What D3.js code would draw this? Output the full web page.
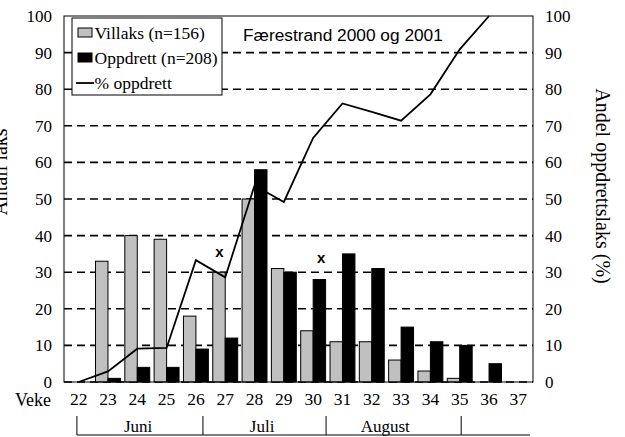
<!DOCTYPE html>
<html>
<head>
<meta charset="utf-8">
<script src="https://cdnjs.cloudflare.com/ajax/libs/d3/7.8.5/d3.min.js"></script>
<style>
  body { margin: 0; background: #fff; }
</style>
</head>
<body>
<div class="chart"></div>
<script>
// --- data ---
var weeks = ["22","23","24","25","26","27","28","29","30","31","32","33","34","35","36","37"];
var villaks = [0, 33, 40, 39, 18, 30, 50, 31, 14, 11, 11, 6, 3, 1, 0, 0];
var oppdrett = [0, 1, 4, 4, 9, 12, 58, 30, 28, 35, 31, 15, 11, 10, 5, 0];
var pctOppdrett = [0, 2.9, 9.1, 9.3, 33.3, 28.6, 53.7, 49.2, 66.7, 76.1, 73.8, 71.4, 78.6, 90.9, 100, null];
var leftTicks = [0, 10, 20, 30, 40, 50, 60, 70, 80, 90, 100];
var rightTicks = [0, 10, 20, 30, 40, 50, 60, 70, 80, 90, 100];
var months = ["Juni", "Juli", "August"];
var monthEdges = [21.94, 26.24, 30.44, 35.05];   // in week units
var monthLabelAt = [24.03, 28.26, 32.46];
var monthLineEnd = 37.4;
var markerWeek = [26.8, 30.27];
var markerValue = [35.5, 33.8];
var legendLabels = ["Villaks (n=156)", "Oppdrett (n=208)", "% oppdrett"];

var SERIF = "'Liberation Serif', 'Times New Roman', serif";
var SANS = "'Liberation Sans', Arial, sans-serif";

var W = 625, H = 437;
var margin = {top: 16, right: 92, bottom: 55, left: 64};
var w = W - margin.left - margin.right;
var h = H - margin.top - margin.bottom;

var svg = d3.select(".chart").append("svg")
    .attr("width", W)
    .attr("height", H)
    .style("font-family", SERIF);

var g = svg.append("g")
    .attr("transform", "translate(" + margin.left + "," + margin.top + ")");

var x = d3.scaleBand()
    .domain(weeks)
    .range([0, w])
    .paddingInner(0.15)
    .paddingOuter(0.075);

// week number -> band centre, for things between bands
var xw = d3.scaleLinear()
    .domain([21.5, 37.5])
    .range([0, w]);

var xs = d3.scaleBand()
    .domain(["v", "o"])
    .range([0, x.bandwidth()]);

var y = d3.scaleLinear().domain([0, 100]).range([h, 0]);
var y2 = d3.scaleLinear().domain([0, 100]).range([h, 0]);

// gridlines
g.selectAll(".grid")
    .data(leftTicks.filter(function(d) { return d < 100; }))
    .enter().append("line")
    .attr("x1", 0).attr("x2", w)
    .attr("y1", function(d) { return y(d); })
    .attr("y2", function(d) { return y(d); })
    .attr("stroke", "#000")
    .attr("stroke-width", 1.6)
    .attr("stroke-dasharray", "8,5");

// bars
var rows = weeks.map(function(wk, i) {
    return {week: wk, v: villaks[i], o: oppdrett[i], p: pctOppdrett[i]};
});

g.selectAll(".bar-v")
    .data(rows)
    .enter().append("rect")
    .attr("x", function(d) { return x(d.week) + xs("v"); })
    .attr("y", function(d) { return y(d.v); })
    .attr("width", xs.bandwidth())
    .attr("height", function(d) { return h - y(d.v); })
    .attr("fill", "#c0c0c0")
    .attr("stroke", "#000")
    .attr("stroke-width", 1);

g.selectAll(".bar-o")
    .data(rows)
    .enter().append("rect")
    .attr("x", function(d) { return x(d.week) + xs("o"); })
    .attr("y", function(d) { return y(d.o); })
    .attr("width", xs.bandwidth())
    .attr("height", function(d) { return h - y(d.o); })
    .attr("fill", "#000")
    .attr("stroke", "#000")
    .attr("stroke-width", 1);

// % line
var line = d3.line()
    .defined(function(d) { return d.p != null; })
    .x(function(d) { return x(d.week) + x.bandwidth() / 2; })
    .y(function(d) { return y2(d.p); });

g.append("path")
    .datum(rows)
    .attr("d", line)
    .attr("fill", "none")
    .attr("stroke", "#000")
    .attr("stroke-width", 1.8);

// frame
g.append("rect")
    .attr("width", w).attr("height", h)
    .attr("fill", "none")
    .attr("stroke", "#000")
    .attr("stroke-width", 1);

// axes
var yAxisL = d3.axisLeft(y).tickValues(leftTicks).tickSize(0).tickPadding(12);
var yAxisR = d3.axisRight(y2).tickValues(rightTicks).tickSize(0).tickPadding(12);
var xAxis = d3.axisBottom(x).tickSize(0).tickPadding(11);

var gl = g.append("g").call(yAxisL);
var gr = g.append("g").attr("transform", "translate(" + w + ",0)").call(yAxisR);
var gx = g.append("g").attr("transform", "translate(0," + h + ")").call(xAxis);

[gl, gr, gx].forEach(function(a) {
    a.attr("font-family", null).attr("font-size", null);
    a.select(".domain").remove();
    a.selectAll("text")
        .style("font-family", SERIF)
        .style("font-size", "17px")
        .attr("fill", "#000");
});
gx.selectAll("text").style("font-size", "17.5px");

g.append("text")
    .attr("x", -margin.left + 15)
    .attr("y", h + 24)
    .style("font-size", "18px")
    .text("Veke");

// month brackets
var gm = g.append("g").attr("transform", "translate(0," + (h + 34) + ")");
gm.append("line")
    .attr("x1", xw(monthEdges[0])).attr("x2", xw(monthLineEnd))
    .attr("y1", 19).attr("y2", 19)
    .attr("stroke", "#000").attr("stroke-width", 1);
gm.selectAll(".mtick")
    .data(monthEdges)
    .enter().append("line")
    .attr("x1", function(d) { return xw(d); })
    .attr("x2", function(d) { return xw(d); })
    .attr("y1", 0).attr("y2", 19)
    .attr("stroke", "#000").attr("stroke-width", 1);
gm.selectAll(".mlabel")
    .data(months)
    .enter().append("text")
    .attr("x", function(d, i) { return xw(monthLabelAt[i]); })
    .attr("y", 16)
    .attr("text-anchor", "middle")
    .style("font-size", "17px")
    .text(function(d) { return d; });

// x markers
g.selectAll(".mark")
    .data(markerWeek)
    .enter().append("text")
    .attr("x", function(d) { return xw(d); })
    .attr("y", function(d, i) { return y(markerValue[i]); })
    .attr("dy", "0.32em")
    .attr("text-anchor", "middle")
    .style("font-family", SANS)
    .style("font-weight", "bold")
    .style("font-size", "15px")
    .text("x");

// title
g.append("text")
    .attr("x", 179)
    .attr("y", 25)
    .style("font-family", SANS)
    .style("font-size", "17.3px")
    .text("Færestrand 2000 og 2001");

// axis titles
svg.append("text")
    .attr("transform", "translate(7,172) rotate(-90)")
    .attr("text-anchor", "middle")
    .style("font-size", "20px")
    .text("Antall laks");

svg.append("text")
    .attr("transform", "translate(596,186) rotate(90)")
    .attr("text-anchor", "middle")
    .style("font-size", "20px")
    .text("Andel oppdrettslaks (%)");

// legend
var lg = g.append("g").attr("transform", "translate(8,2)");
lg.append("rect")
    .attr("width", 150).attr("height", 77)
    .attr("fill", "#fff")
    .attr("stroke", "#000")
    .attr("stroke-width", 1);

var item = lg.selectAll(".item")
    .data(legendLabels)
    .enter().append("g")
    .attr("transform", function(d, i) { return "translate(0," + (15 + i * 25) + ")"; });

item.filter(function(d, i) { return i < 2; })
    .append("rect")
    .attr("x", 6).attr("y", -5)
    .attr("width", 14).attr("height", 9)
    .attr("fill", function(d, i) { return i === 0 ? "#c0c0c0" : "#000"; })
    .attr("stroke", "#000")
    .attr("stroke-width", 1);

item.filter(function(d, i) { return i === 2; })
    .append("line")
    .attr("x1", 4).attr("x2", 22)
    .attr("y1", 0).attr("y2", 0)
    .attr("stroke", "#000")
    .attr("stroke-width", 1.8);

item.append("text")
    .attr("x", 22.5)
    .attr("dy", "0.35em")
    .style("font-size", "17.5px")
    .text(function(d) { return d; });
</script>
</body>
</html>
